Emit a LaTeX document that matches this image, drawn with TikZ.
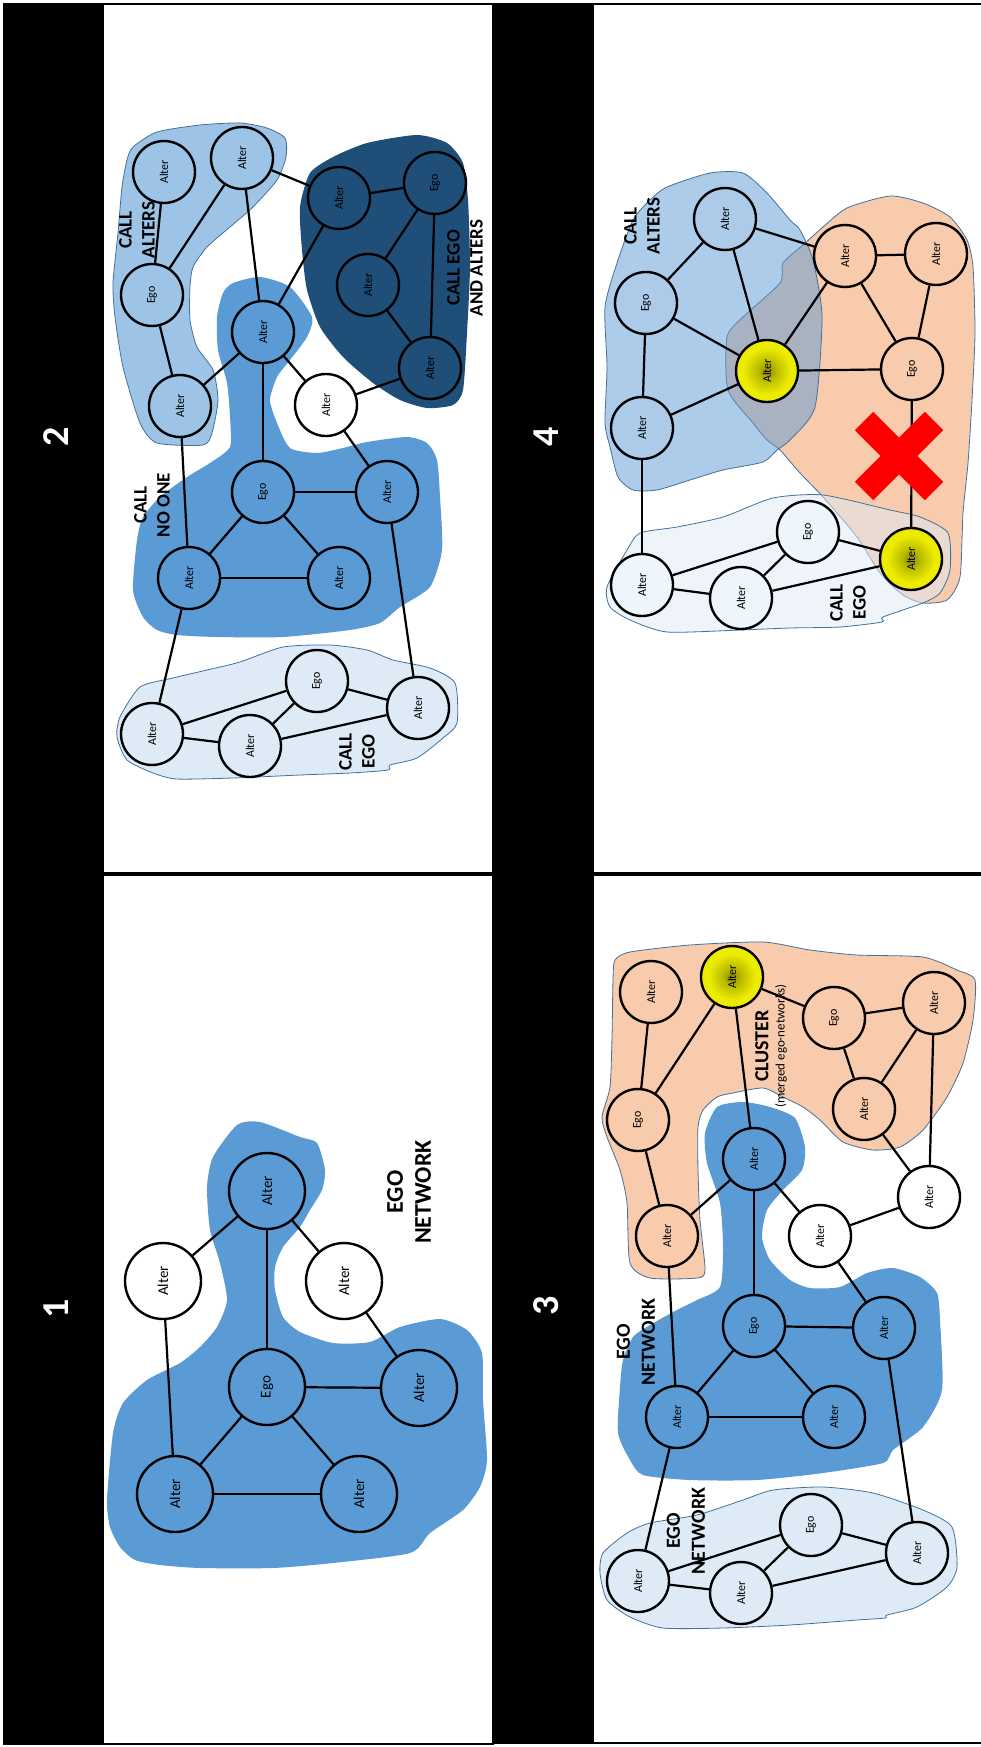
\documentclass[tikz,border=0pt]{standalone}
\usepackage{fontspec}
\setmainfont{Carlito}
\definecolor{midb}{HTML}{5B9BD5}
\definecolor{lbtwo}{HTML}{9DC3E6}
\definecolor{darkb}{HTML}{1F4E79}
\definecolor{vlb}{HTML}{DEEBF7}
\definecolor{peach}{HTML}{F8CBAD}
\definecolor{lbfour}{HTML}{ADCBE9}
\definecolor{vlbfour}{HTML}{EEF5FB}
\definecolor{blobline}{HTML}{41719C}
\definecolor{xred}{RGB}{255,0,0}
\pgfdeclareradialshading{yshade}{\pgfpoint{0bp}{0bp}}{rgb(0bp)=(0.55,0.55,0); rgb(8bp)=(0.74,0.74,0); rgb(19bp)=(0.925,0.925,0); rgb(50bp)=(0.925,0.925,0)}
\begin{document}
\begin{tikzpicture}[x=1pt,y=-1pt,
  nd/.style={circle, draw=black, line width=2.4pt, minimum size=62pt, inner sep=0pt, rotate=90, font=\fontsize{12}{12}\selectfont, text=black},
  bignd/.style={nd, minimum size=76pt, font=\fontsize{15}{15}\selectfont},
  fm/.style={fill=midb}, fl/.style={fill=lbtwo}, fd/.style={fill=darkb},
  fv/.style={fill=vlb}, fp/.style={fill=peach}, fw/.style={fill=white},
  flf/.style={fill=lbfour}, fvf/.style={fill=vlbfour},
  fy/.style={shading=yshade},
  ed/.style={line width=2.2pt},
  lbl/.style={rotate=90, font=\bfseries\fontsize{19}{23}\selectfont, align=center, inner sep=0pt},
  biglbl/.style={lbl, font=\bfseries\fontsize{24}{28}\selectfont},
  midlbl/.style={lbl, font=\bfseries\fontsize{20}{25}\selectfont},
  blob/.style={draw=blobline, line width=0.8pt},
  num/.style={rotate=90, text=white, font=\bfseries\fontsize{38}{38}\selectfont, inner sep=0pt},
  frame/.style={draw=black, line width=1.6pt}
]
\useasboundingbox (0,0) rectangle (981,1747);
\fill[white] (0,0) rectangle (981,1747);

% ---------------- frames ----------------
\fill[black] (4,4) rectangle (104,873);
\draw[frame] (4,4) rectangle (493,873);
\fill[black] (495,4) rectangle (594,873);
\draw[frame] (990,4) -- (495,4) -- (495,873) -- (990,873);
\fill[black] (4,875) rectangle (104,1744);
\draw[frame] (4,875) rectangle (493,1744);
\fill[black] (495,875) rectangle (594,1743);
\draw[frame] (990,875) -- (495,875) -- (495,1743) -- (990,1743);

\node[num] (n2) at (56,437) {2};
\node[num] (n4) at (546,437) {4};
\node[num] (n1) at (56,1309) {1};
\node[num] (n3) at (546,1306) {3};

% ================= PANEL 2 =================
\fill[lbtwo, blob] plot[smooth cycle, tension=0.4] coordinates {
 (133,147) (157,132) (200,125) (240,123) (267,128) (285,138) (286,157) (277,180) (253,207) (230,227) (207,247) (193,267) (190,287) (190,320) (197,347) (213,370) (218,400) (212,433) (203,445) (157,443) (140,423) (123,367) (115,317) (113,283) (118,233) (122,187) (127,160)};
\fill[midb] plot[smooth cycle, tension=0.4] coordinates {
 (233,283) (260,277) (290,287) (312,317) (307,337) (290,360) (277,377) (270,400) (277,423) (290,448) (317,453) (343,448) (367,442) (407,437) (427,443) (437,460) (440,497) (442,550) (430,587) (400,607) (380,623) (350,630) (283,637) (217,637) (177,635) (157,630) (143,617) (133,590) (137,540) (143,517) (160,497) (187,477) (210,463) (230,447) (230,417) (227,383) (218,350) (217,317) (223,293)};
\fill[darkb] plot[smooth cycle, tension=0.4] coordinates {
 (310,173) (333,157) (367,143) (417,135) (447,143) (463,163) (468,200) (470,267) (467,333) (463,390) (453,405) (427,408) (400,400) (373,383) (343,357) (320,327) (307,290) (302,250) (300,207)};
\fill[vlb, blob] plot[smooth cycle, tension=0.4] coordinates {
 (120,717) (140,687) (173,678) (207,670) (240,662) (283,647) (330,645) (367,650) (393,660) (430,668) (455,683) (457,723) (443,738) (417,758) (390,765) (388,770) (350,773) (300,775) (233,778) (177,779) (153,773) (127,760) (117,737)};

\node[nd, fl] (p2la1) at (164,172) {Alter};
\node[nd, fl] (p2la2) at (242,158) {Alter};
\node[nd, fl] (p2le) at (152,295) {Ego};
\node[nd, fl] (p2la3) at (180,406) {Alter};
\node[nd, fm] (p2mc) at (263,332) {Alter};
\node[nd, fd] (p2da1) at (339,198) {Alter};
\node[nd, fd] (p2de) at (435,183) {Ego};
\node[nd, fd] (p2da2) at (368,285) {Alter};
\node[nd, fd] (p2da3) at (430,368) {Alter};
\node[nd, fw] (p2w) at (326,405) {Alter};
\node[nd, fm] (p2me) at (263,492) {Ego};
\node[nd, fm] (p2mr) at (387,492) {Alter};
\node[nd, fm] (p2ml) at (189,578) {Alter};
\node[nd, fm] (p2mrb) at (339,578) {Alter};
\node[nd, fv] (p2ve) at (317,681) {Ego};
\node[nd, fv] (p2vr) at (418,708) {Alter};
\node[nd, fv] (p2vl) at (152,734) {Alter};
\node[nd, fv] (p2vm) at (250,746) {Alter};

\draw[ed] (p2la1) -- (p2le);
\draw[ed] (p2la2) -- (p2le);
\draw[ed] (p2la2) -- (p2mc);
\draw[ed] (p2la2) -- (p2da1);
\draw[ed] (p2le) -- (p2la3);
\draw[ed] (p2la3) -- (p2mc);
\draw[ed] (p2la3) -- (p2ml);
\draw[ed] (p2mc) -- (p2da1);
\draw[ed] (p2mc) -- (p2me);
\draw[ed] (p2mc) -- (p2w);
\draw[ed] (p2w) -- (p2da3);
\draw[ed] (p2w) -- (p2mr);
\draw[ed] (p2da1) -- (p2de);
\draw[ed] (p2de) -- (p2da2);
\draw[ed] (p2de) -- (p2da3);
\draw[ed] (p2da2) -- (p2da3);
\draw[ed] (p2me) -- (p2mr);
\draw[ed] (p2me) -- (p2ml);
\draw[ed] (p2me) -- (p2mrb);
\draw[ed] (p2ml) -- (p2mrb);
\draw[ed] (p2ml) -- (p2vl);
\draw[ed] (p2mr) -- (p2vr);
\draw[ed] (p2vl) -- (p2ve);
\draw[ed] (p2vl) -- (p2vm);
\draw[ed] (p2vm) -- (p2ve);
\draw[ed] (p2vm) -- (p2vr);
\draw[ed] (p2ve) -- (p2vr);

\node[lbl] (p2t1) at (137,230) {CALL\\ALTERS};
\node[lbl] (p2t2) at (465,268) {CALL EGO\\AND ALTERS};
\node[lbl] (p2t3) at (152,505) {CALL\\NO ONE};
\node[lbl] (p2t4) at (357,752) {CALL\\EGO};

% ================= PANEL 4 =================
\fill[peach, blob] plot[smooth cycle, tension=0.4] coordinates {
 (803,245) (823,227) (847,208) (890,196) (923,203) (950,217) (967,240) (973,267) (975,333) (972,400) (968,463) (963,513) (960,577) (947,600) (923,603) (903,595) (880,573) (857,537) (823,497) (800,473) (780,450) (767,440) (753,423) (728,390) (727,337) (743,317) (780,283) (783,263)};
\fill[midb, fill opacity=0.5, blob] plot[smooth cycle, tension=0.4] coordinates {
 (667,187) (710,173) (743,173) (767,193) (790,220) (800,230) (813,260) (822,317) (815,407) (790,440) (777,450) (763,462) (723,470) (690,480) (657,490) (633,490) (618,477) (610,447) (605,423) (607,367) (605,307) (617,263) (633,220) (650,200)};
\fill[vlb, fill opacity=0.5, blob] plot[smooth cycle, tension=0.4] coordinates {
 (607,587) (627,550) (640,533) (677,527) (723,517) (773,498) (823,495) (890,510) (920,517) (948,533) (950,570) (940,593) (923,603) (883,617) (882,622) (840,627) (790,628) (740,630) (667,632) (630,620) (610,607)};

\node[nd, flf] (p4la) at (725,219) {Alter};
\node[nd, flf] (p4le) at (646,303) {Ego};
\node[nd, fy] (p4y) at (767,371) {Alter};
\node[nd, fp] (p4pa) at (845,256) {Alter};
\node[nd, fp] (p4pr) at (936,254) {Alter};
\node[nd, fp] (p4pe) at (912,369) {Ego};
\node[nd, flf] (p4lb) at (642,428) {Alter};
\node[nd, fvf] (p4ve) at (808,532) {Ego};
\node[nd, fy] (p4y2) at (911,559) {Alter};
\node[nd, fvf] (p4vl) at (642,585) {Alter};
\node[nd, fvf] (p4vm) at (741,598) {Alter};

\draw[ed] (p4la) -- (p4le);
\draw[ed] (p4la) -- (p4y);
\draw[ed] (p4la) -- (p4pa);
\draw[ed] (p4le) -- (p4y);
\draw[ed] (p4le) -- (p4lb);
\draw[ed] (p4lb) -- (p4y);
\draw[ed] (p4y) -- (p4pa);
\draw[ed] (p4y) -- (p4pe);
\draw[ed] (p4pa) -- (p4pr);
\draw[ed] (p4pa) -- (p4pe);
\draw[ed] (p4pr) -- (p4pe);
\draw[ed] (p4pe) -- (p4y2);
\draw[ed] (p4lb) -- (p4vl);
\draw[ed] (p4vl) -- (p4ve);
\draw[ed] (p4vl) -- (p4vm);
\draw[ed] (p4vm) -- (p4ve);
\draw[ed] (p4vm) -- (p4y2);
\draw[ed] (p4ve) -- (p4y2);

\coordinate (x1a) at (864,421);
\coordinate (x1b) at (934,491);
\coordinate (x2a) at (934,421);
\coordinate (x2b) at (864,491);
\draw[xred, line width=26pt] (x1a) -- (x1b);
\draw[xred, line width=26pt] (x2a) -- (x2b);

\node[lbl] (p4t1) at (642,226) {CALL\\ALTERS};
\node[lbl] (p4t2) at (848,603) {CALL\\EGO};

% ================= PANEL 1 =================
\fill[midb] plot[smooth cycle, tension=0.4] coordinates {
 (237,1125) (260,1122) (300,1137) (317,1143) (325,1170) (322,1190) (310,1210) (300,1227) (283,1247) (275,1267) (275,1290) (283,1317) (300,1332) (333,1343) (370,1342) (400,1327) (440,1319) (467,1330) (482,1353) (483,1400) (487,1460) (480,1487) (463,1510) (430,1533) (410,1553) (333,1563) (273,1568) (200,1568) (160,1565) (135,1560) (120,1547) (110,1527) (107,1500) (113,1433) (123,1403) (147,1380) (180,1363) (200,1347) (217,1327) (227,1300) (220,1263) (210,1230) (207,1187) (213,1157)};

\node[bignd, fm] (p1at) at (267,1191) {Alter};
\node[bignd, fw] (p1wl) at (163,1281) {Alter};
\node[bignd, fw] (p1wr) at (344,1281) {Alter};
\node[bignd, fm] (p1e) at (267,1387) {Ego};
\node[bignd, fm] (p1ar) at (419,1388) {Alter};
\node[bignd, fm] (p1abl) at (175,1494) {Alter};
\node[bignd, fm] (p1abr) at (359,1494) {Alter};

\draw[ed] (p1at) -- (p1e);
\draw[ed] (p1at) -- (p1wl);
\draw[ed] (p1at) -- (p1wr);
\draw[ed] (p1wl) -- (p1abl);
\draw[ed] (p1wr) -- (p1ar);
\draw[ed] (p1e) -- (p1ar);
\draw[ed] (p1e) -- (p1abl);
\draw[ed] (p1e) -- (p1abr);
\draw[ed] (p1abl) -- (p1abr);

\node[biglbl] (p1t) at (409,1192) {EGO\\NETWORK};

% ================= PANEL 3 =================
\fill[peach, blob] plot[smooth cycle, tension=0.4] coordinates {
 (615,960) (630,952) (690,945) (763,942) (810,950) (857,955) (923,957) (957,970) (975,980) (973,1020) (963,1063) (947,1097) (923,1130) (900,1147) (873,1150) (843,1142) (820,1120) (803,1107) (783,1097) (763,1088) (733,1093) (717,1097) (703,1110) (698,1127) (698,1170) (700,1220) (705,1270) (697,1278) (650,1278) (630,1263) (627,1203) (620,1170) (607,1137) (602,1117) (610,1087) (612,1037) (613,980)};
\fill[midb] plot[smooth cycle, tension=0.4] coordinates {
 (717,1107) (743,1102) (770,1107) (795,1118) (805,1147) (802,1170) (783,1190) (767,1210) (762,1237) (770,1260) (790,1280) (810,1288) (840,1287) (867,1273) (893,1268) (920,1277) (937,1293) (940,1320) (942,1390) (923,1427) (893,1450) (883,1463) (823,1473) (757,1480) (690,1480) (643,1475) (630,1460) (618,1433) (620,1387) (623,1360) (633,1337) (650,1325) (677,1310) (697,1300) (720,1287) (723,1247) (720,1203) (707,1163) (705,1133)};
\fill[vlb, blob] plot[smooth cycle, tension=0.4] coordinates {
 (603,1553) (627,1533) (650,1523) (697,1515) (743,1500) (773,1490) (823,1487) (873,1493) (923,1510) (952,1527) (957,1567) (947,1587) (917,1607) (887,1615) (885,1618) (857,1620) (790,1625) (723,1628) (663,1628) (630,1617) (607,1600) (600,1573)};

\node[nd, fp] (p3pa1) at (651,992) {Alter};
\node[nd, fy] (p3y) at (732,977) {Alter};
\node[nd, fp] (p3pe1) at (638,1120) {Ego};
\node[nd, fp] (p3pa2) at (667,1236) {Alter};
\node[nd, fp] (p3pe2) at (834,1018) {Ego};
\node[nd, fp] (p3pa3) at (934,1003) {Alter};
\node[nd, fp] (p3pa4) at (864,1109) {Alter};
\node[nd, fm] (p3ma) at (754,1159) {Alter};
\node[nd, fw] (p3w1) at (820,1236) {Alter};
\node[nd, fw] (p3w2) at (929,1197) {Alter};
\node[nd, fm] (p3me) at (754,1326) {Ego};
\node[nd, fm] (p3mr) at (884,1328) {Alter};
\node[nd, fm] (p3ml) at (677,1417) {Alter};
\node[nd, fm] (p3mrb) at (834,1417) {Alter};
\node[nd, fv] (p3ve) at (811,1525) {Ego};
\node[nd, fv] (p3vr) at (917,1553) {Alter};
\node[nd, fv] (p3vl) at (638,1581) {Alter};
\node[nd, fv] (p3vm) at (741,1593) {Alter};

\draw[ed] (p3pa1) -- (p3pe1);
\draw[ed] (p3y) -- (p3pe1);
\draw[ed] (p3y) -- (p3ma);
\draw[ed] (p3y) -- (p3pe2);
\draw[ed] (p3pe1) -- (p3pa2);
\draw[ed] (p3pa2) -- (p3ma);
\draw[ed] (p3pa2) -- (p3ml);
\draw[ed] (p3pe2) -- (p3pa3);
\draw[ed] (p3pe2) -- (p3pa4);
\draw[ed] (p3pa3) -- (p3pa4);
\draw[ed] (p3pa4) -- (p3w2);
\draw[ed] (p3pa3) -- (p3w2);
\draw[ed] (p3ma) -- (p3w1);
\draw[ed] (p3ma) -- (p3me);
\draw[ed] (p3w1) -- (p3w2);
\draw[ed] (p3w1) -- (p3mr);
\draw[ed] (p3me) -- (p3mr);
\draw[ed] (p3me) -- (p3ml);
\draw[ed] (p3me) -- (p3mrb);
\draw[ed] (p3ml) -- (p3mrb);
\draw[ed] (p3ml) -- (p3vl);
\draw[ed] (p3mr) -- (p3vr);
\draw[ed] (p3vl) -- (p3ve);
\draw[ed] (p3vl) -- (p3vm);
\draw[ed] (p3vm) -- (p3ve);
\draw[ed] (p3vm) -- (p3vr);
\draw[ed] (p3ve) -- (p3vr);

\node[midlbl] (p3t1) at (762,1046) {CLUSTER};
\node[lbl, font=\fontsize{13}{15}\selectfont] (p3t2) at (781,1046) {(merged ego-networks)};
\node[midlbl] (p3t3) at (636,1342) {EGO\\NETWORK};
\node[midlbl] (p3t4) at (686,1531) {EGO\\NETWORK};
\end{tikzpicture}
\end{document}
